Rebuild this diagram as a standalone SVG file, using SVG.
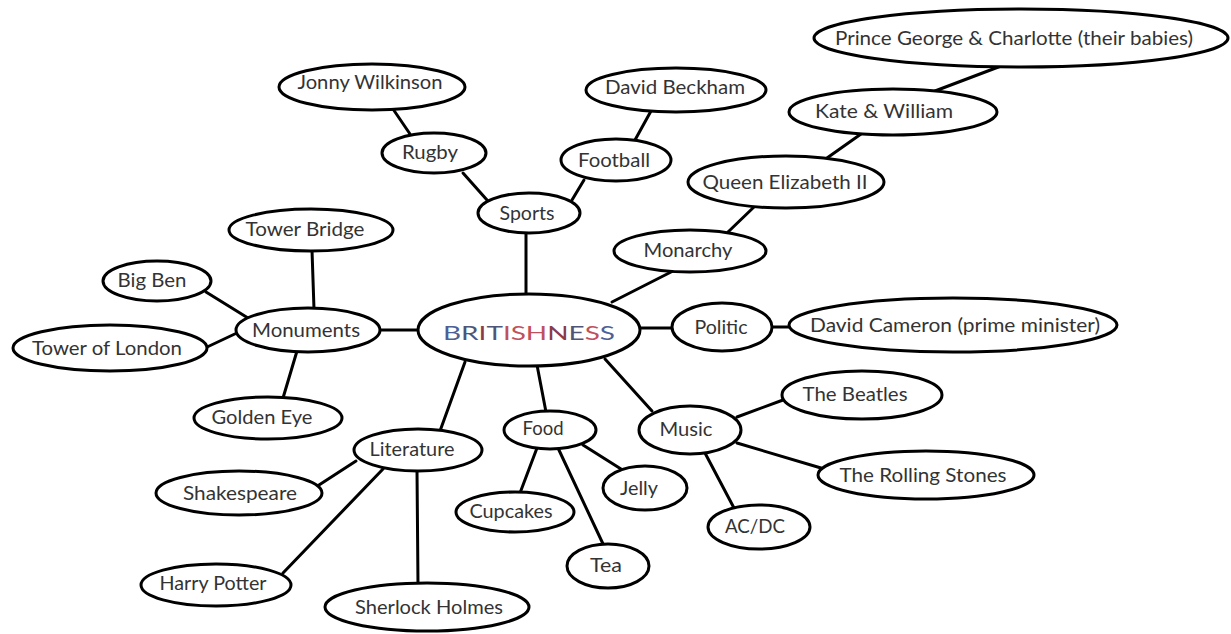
<svg xmlns="http://www.w3.org/2000/svg" width="1231" height="634" viewBox="0 0 1231 634">
<style>
.bg{fill:#ffffff}
.n ellipse{fill:#ffffff;stroke:#000;stroke-width:3}
.n text{font-family:Lato,"Liberation Sans",sans-serif;font-size:19px;fill:#333;text-anchor:middle}
#connectors line{stroke:#000;stroke-width:3;stroke-linecap:round}
.t{font-family:Lato,"Liberation Sans",sans-serif;font-size:29px;text-anchor:middle}
.b{fill:#4f5f95}.r{fill:#c0505e}.d{fill:#8a3a48}.g{fill:#4f5576}
</style>
<rect class="bg" x="0" y="0" width="1231" height="634"/>
<g id="connectors">
<line x1="526" y1="233" x2="526" y2="294"/>
<line x1="463" y1="173" x2="487" y2="200"/>
<line x1="393" y1="109" x2="410" y2="134"/>
<line x1="572" y1="200" x2="584" y2="180"/>
<line x1="635" y1="140" x2="651" y2="111"/>
<line x1="612" y1="302" x2="673" y2="271"/>
<line x1="728" y1="232" x2="754" y2="207"/>
<line x1="827" y1="158" x2="861" y2="134"/>
<line x1="935" y1="91" x2="1001" y2="66"/>
<line x1="638" y1="328" x2="673" y2="328"/>
<line x1="771" y1="327" x2="790" y2="327"/>
<line x1="605" y1="359" x2="652" y2="411"/>
<line x1="737" y1="417" x2="783" y2="400"/>
<line x1="737" y1="443" x2="821" y2="468"/>
<line x1="705" y1="453" x2="734" y2="508"/>
<line x1="537" y1="365" x2="546" y2="412"/>
<line x1="537" y1="448" x2="520" y2="493"/>
<line x1="558" y1="448" x2="604" y2="546"/>
<line x1="583" y1="445" x2="621" y2="469"/>
<line x1="465" y1="362" x2="440" y2="431"/>
<line x1="356" y1="461" x2="319" y2="485"/>
<line x1="383" y1="469" x2="283" y2="573"/>
<line x1="417" y1="470" x2="418" y2="584"/>
<line x1="379" y1="330" x2="418" y2="330"/>
<line x1="312" y1="250" x2="314" y2="309"/>
<line x1="206" y1="292" x2="248" y2="318"/>
<line x1="205" y1="348" x2="239" y2="332"/>
<line x1="283" y1="398" x2="297" y2="351"/>
</g>
<g id="britishness" class="n"><ellipse cx="529" cy="330" rx="111" ry="36"/>
<text class="t" x="529" y="340" textLength="172" lengthAdjust="spacingAndGlyphs"><tspan class="b">B</tspan><tspan class="g">R</tspan><tspan class="d">I</tspan><tspan class="g">T</tspan><tspan class="r">I</tspan><tspan class="r">S</tspan><tspan class="r">H</tspan><tspan class="d">N</tspan><tspan class="g">E</tspan><tspan class="r">S</tspan><tspan class="b">S</tspan></text></g>
<g id="sports" class="n"><ellipse cx="529" cy="213" rx="51" ry="20"/><text x="527" y="220" textLength="55" lengthAdjust="spacingAndGlyphs">Sports</text></g>
<g id="rugby" class="n"><ellipse cx="434" cy="153" rx="52" ry="20"/><text x="430" y="159" textLength="56" lengthAdjust="spacingAndGlyphs">Rugby</text></g>
<g id="jonny" class="n"><ellipse cx="372" cy="87" rx="93" ry="23"/><text x="370" y="89" textLength="145" lengthAdjust="spacingAndGlyphs">Jonny Wilkinson</text></g>
<g id="football" class="n"><ellipse cx="616" cy="160" rx="55" ry="21"/><text x="614" y="167" textLength="72" lengthAdjust="spacingAndGlyphs">Football</text></g>
<g id="beckham" class="n"><ellipse cx="676" cy="90" rx="90" ry="22"/><text x="675" y="94" textLength="140" lengthAdjust="spacingAndGlyphs">David Beckham</text></g>
<g id="monarchy" class="n"><ellipse cx="690" cy="251" rx="76" ry="21"/><text x="688" y="257" textLength="89" lengthAdjust="spacingAndGlyphs">Monarchy</text></g>
<g id="queen" class="n"><ellipse cx="786" cy="182" rx="98" ry="26"/><text x="785" y="189" textLength="165" lengthAdjust="spacingAndGlyphs">Queen Elizabeth II</text></g>
<g id="kate" class="n"><ellipse cx="893" cy="112" rx="104" ry="23"/><text x="884" y="118" textLength="138" lengthAdjust="spacingAndGlyphs">Kate &amp; William</text></g>
<g id="prince" class="n"><ellipse cx="1021" cy="38" rx="207" ry="29"/><text x="1014" y="45" textLength="358" lengthAdjust="spacingAndGlyphs">Prince George &amp; Charlotte (their babies)</text></g>
<g id="politic" class="n"><ellipse cx="722" cy="327" rx="50" ry="24"/><text x="721" y="334" textLength="53" lengthAdjust="spacingAndGlyphs">Politic</text></g>
<g id="cameron" class="n"><ellipse cx="953" cy="325" rx="164" ry="27"/><text x="955" y="332" textLength="290" lengthAdjust="spacingAndGlyphs">David Cameron (prime minister)</text></g>
<g id="music" class="n"><ellipse cx="690" cy="430" rx="51" ry="24"/><text x="686" y="436" textLength="53" lengthAdjust="spacingAndGlyphs">Music</text></g>
<g id="beatles" class="n"><ellipse cx="862" cy="395" rx="80" ry="24"/><text x="855" y="401" textLength="105" lengthAdjust="spacingAndGlyphs">The Beatles</text></g>
<g id="stones" class="n"><ellipse cx="926" cy="475" rx="108" ry="24"/><text x="923" y="482" textLength="167" lengthAdjust="spacingAndGlyphs">The Rolling Stones</text></g>
<g id="acdc" class="n"><ellipse cx="759" cy="527" rx="51" ry="22"/><text x="755" y="533" textLength="60" lengthAdjust="spacingAndGlyphs">AC/DC</text></g>
<g id="food" class="n"><ellipse cx="550" cy="430" rx="46" ry="19"/><text x="543" y="435" textLength="41" lengthAdjust="spacingAndGlyphs">Food</text></g>
<g id="jelly" class="n"><ellipse cx="645" cy="488" rx="42" ry="22"/><text x="639" y="495" textLength="38" lengthAdjust="spacingAndGlyphs">Jelly</text></g>
<g id="tea" class="n"><ellipse cx="608" cy="566" rx="41" ry="22"/><text x="606" y="572" textLength="32" lengthAdjust="spacingAndGlyphs">Tea</text></g>
<g id="cupcakes" class="n"><ellipse cx="515" cy="512" rx="59" ry="20"/><text x="511" y="518" textLength="83" lengthAdjust="spacingAndGlyphs">Cupcakes</text></g>
<g id="literature" class="n"><ellipse cx="418" cy="450" rx="64" ry="21"/><text x="412" y="456" textLength="85" lengthAdjust="spacingAndGlyphs">Literature</text></g>
<g id="shakespeare" class="n"><ellipse cx="239" cy="493" rx="83" ry="22"/><text x="240" y="500" textLength="114" lengthAdjust="spacingAndGlyphs">Shakespeare</text></g>
<g id="harry" class="n"><ellipse cx="216" cy="585" rx="75" ry="21"/><text x="213" y="590" textLength="107" lengthAdjust="spacingAndGlyphs">Harry Potter</text></g>
<g id="sherlock" class="n"><ellipse cx="427" cy="607" rx="102" ry="24"/><text x="429" y="614" textLength="148" lengthAdjust="spacingAndGlyphs">Sherlock Holmes</text></g>
<g id="monuments" class="n"><ellipse cx="308" cy="330" rx="72" ry="22"/><text x="306" y="337" textLength="108" lengthAdjust="spacingAndGlyphs">Monuments</text></g>
<g id="towerbridge" class="n"><ellipse cx="311" cy="230" rx="82" ry="21"/><text x="305" y="236" textLength="119" lengthAdjust="spacingAndGlyphs">Tower Bridge</text></g>
<g id="bigben" class="n"><ellipse cx="157" cy="281" rx="54" ry="20"/><text x="152" y="287" textLength="69" lengthAdjust="spacingAndGlyphs">Big Ben</text></g>
<g id="towerlondon" class="n"><ellipse cx="110" cy="348" rx="97" ry="23"/><text x="107" y="355" textLength="150" lengthAdjust="spacingAndGlyphs">Tower of London</text></g>
<g id="goldeneye" class="n"><ellipse cx="268" cy="418" rx="74" ry="21"/><text x="262" y="424" textLength="101" lengthAdjust="spacingAndGlyphs">Golden Eye</text></g>
</svg>
